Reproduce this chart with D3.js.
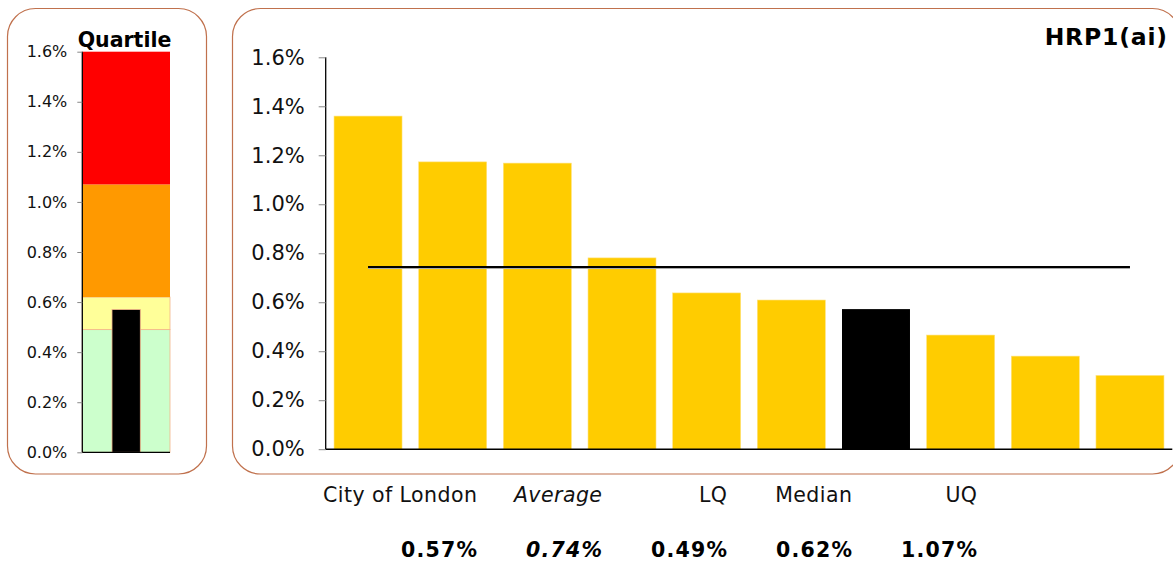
<!DOCTYPE html>
<html>
<head>
<meta charset="utf-8">
<script src="https://cdn.jsdelivr.net/npm/d3@7"></script>
<style>
  html, body { margin: 0; padding: 0; background: #ffffff; }
  svg { display: block; font-family: "DejaVu Sans", Verdana, sans-serif; }
</style>
</head>
<body>
<svg id="chart" width="1173" height="562"></svg>
<script>
// ---- data ----
const barIds = ["b1", "b2", "b3", "b4", "b5", "b6", "b7", "b8", "b9", "b10"];
const barValues = [1.36, 1.173, 1.168, 0.781, 0.638, 0.609, 0.572, 0.466, 0.380, 0.301];
const highlightId = "b7";            // City of London
const averageValue = 0.744;
const yTicks = [0, 0.2, 0.4, 0.6, 0.8, 1.0, 1.2, 1.4, 1.6];
const quartileNames = ["LQ band", "Median band", "UQ band", "Top band"];
const quartileBounds = [0, 0.49, 0.62, 1.07, 1.6];
const quartileColors = ["#ccffcc", "#ffff99", "#ff9900", "#ff0000"];
const cityValue = 0.57;
const summaryLabels = ["City of London", "Average", "LQ", "Median", "UQ"];
const summaryValues = [0.57, 0.74, 0.49, 0.62, 1.07];
const summaryItalic = [false, true, false, false, false];
const chartTitle = "HRP1(ai)";
const quartileTitle = "Quartile";

const svg = d3.select("#chart");
const borderColor = "#c0714d";
const pct1 = v => d3.format(".1f")(v) + "%";
const pct2 = v => d3.format(".2f")(v) + "%";

// ---- panels ----
svg.append("rect").attr("x", 7.5).attr("y", 8.5).attr("width", 199).attr("height", 465.5)
  .attr("rx", 28).attr("ry", 28).attr("fill", "none").attr("stroke", borderColor).attr("stroke-width", 1.2);
svg.append("rect").attr("x", 232.5).attr("y", 8.5).attr("width", 948).attr("height", 465.5)
  .attr("rx", 28).attr("ry", 28).attr("fill", "none").attr("stroke", borderColor).attr("stroke-width", 1.2);

// ---- left quartile chart ----
const qy = d3.scaleLinear().domain([0, 1.6]).range([452.3, 51.7]);
const qx0 = 82.3, qx1 = 170;
const qg = svg.append("g");
const bands = quartileNames.map((n, i) => ({ name: n, lo: quartileBounds[i], hi: quartileBounds[i + 1], color: quartileColors[i] }));
qg.selectAll("rect.band").data(bands).join("rect")
  .attr("class", "band")
  .attr("x", qx0).attr("width", qx1 - qx0)
  .attr("y", d => qy(d.hi)).attr("height", d => qy(d.lo) - qy(d.hi))
  .attr("fill", d => d.color)
  .attr("stroke", (d, i) => i < 2 ? "#f3b48a" : "none").attr("stroke-width", 0.8);
const qxb = d3.scaleBand().domain(["city"]).range([qx0, qx1]).paddingInner(0.5).paddingOuter(0.525);
qg.append("rect")
  .attr("x", qxb("city")).attr("width", qxb.bandwidth())
  .attr("y", qy(cityValue)).attr("height", qy(0) - qy(cityValue))
  .attr("fill", "#000").attr("stroke", "#f3b48a").attr("stroke-width", 0.8);

const qAxis = qg.append("g").attr("transform", `translate(${qx0},0)`)
  .call(d3.axisLeft(qy).tickValues(yTicks).tickFormat(pct1).tickSize(5).tickPadding(10));
qAxis.select(".domain").attr("stroke", "#000").attr("stroke-width", 1.3).attr("d", `M0,${qy(1.6)}V${qy(0)}`);
qAxis.selectAll(".tick line").attr("stroke", "#888");
qAxis.selectAll(".tick text").attr("font-size", 16).attr("fill", "#111").attr("font-family", "DejaVu Sans, Verdana, sans-serif");
qg.append("line").attr("x1", qx0).attr("x2", qx1).attr("y1", qy(0)).attr("y2", qy(0)).attr("stroke", "#000").attr("stroke-width", 1.3);
svg.append("text").attr("x", 124.5).attr("y", 47).attr("text-anchor", "middle")
  .attr("font-size", 20.5).attr("font-weight", "bold").attr("fill", "#000").text(quartileTitle);

// ---- main chart ----
const x = d3.scaleBand().domain(barIds).range([325.7, 1172.3]).paddingInner(0.197).paddingOuter(0.0985);
const y = d3.scaleLinear().domain([0, 1.6]).range([449.2, 57.3]);
const mg = svg.append("g");
mg.selectAll("rect.bar").data(barIds.map((id, i) => ({ id, v: barValues[i] }))).join("rect")
  .attr("class", "bar")
  .attr("x", d => x(d.id)).attr("width", x.bandwidth())
  .attr("y", d => y(d.v)).attr("height", d => y(0) - y(d.v))
  .attr("fill", d => d.id === highlightId ? "#000000" : "#ffcc00")
  .attr("stroke", d => d.id === highlightId ? "none" : "#ffe27a").attr("stroke-width", 0.6);

const yAxis = mg.append("g").attr("transform", "translate(325.7,0)")
  .call(d3.axisLeft(y).tickValues(yTicks).tickFormat(pct1).tickSize(7).tickPadding(14));
yAxis.select(".domain").attr("stroke", "#000").attr("stroke-width", 1.3).attr("d", `M0,${y(1.6)}V${y(0)}`);
yAxis.selectAll(".tick line").attr("stroke", "#888");
yAxis.selectAll(".tick text").attr("font-size", 21).attr("fill", "#111").attr("font-family", "DejaVu Sans, Verdana, sans-serif");
mg.append("line").attr("x1", 325.7).attr("x2", 1172.3).attr("y1", y(0)).attr("y2", y(0)).attr("stroke", "#000").attr("stroke-width", 1.5);

// average line
const ax1 = x(barIds[0]) + x.bandwidth() / 2, ax2 = x(barIds[barIds.length - 1]) + x.bandwidth() / 2;
mg.append("line").attr("x1", ax1).attr("x2", ax2).attr("y1", y(averageValue) + 1.3).attr("y2", y(averageValue) + 1.3)
  .attr("stroke", "#aaa").attr("stroke-width", 1.5);
mg.append("line").attr("x1", ax1).attr("x2", ax2).attr("y1", y(averageValue)).attr("y2", y(averageValue))
  .attr("stroke", "#000").attr("stroke-width", 2);

svg.append("text").attr("x", 1167.8).attr("y", 44.5).attr("text-anchor", "end")
  .attr("font-size", 23.5).attr("font-weight", "bold").attr("letter-spacing", 0.8).attr("fill", "#000").text(chartTitle);

// ---- summary table ----
const colRight = d3.scalePoint().domain(summaryLabels).range([477, 977]);
svg.selectAll("text.slab").data(summaryLabels).join("text")
  .attr("class", "slab")
  .attr("x", d => colRight(d) + 0.45).attr("y", 501.5).attr("text-anchor", "end")
  .attr("font-size", 20.5).attr("letter-spacing", 0.45).attr("fill", "#111")
  .attr("font-style", (d, i) => summaryItalic[i] ? "italic" : "normal")
  .text(d => d);
svg.selectAll("text.sval").data(summaryValues).join("text")
  .attr("class", "sval")
  .attr("x", (d, i) => colRight(summaryLabels[i]) + 1.2).attr("y", 557).attr("text-anchor", "end")
  .attr("font-size", 20.5).attr("font-weight", "bold").attr("letter-spacing", 1.2).attr("fill", "#000")
  .attr("font-style", (d, i) => summaryItalic[i] ? "italic" : "normal")
  .text(d => pct2(d));
</script>
</body>
</html>
